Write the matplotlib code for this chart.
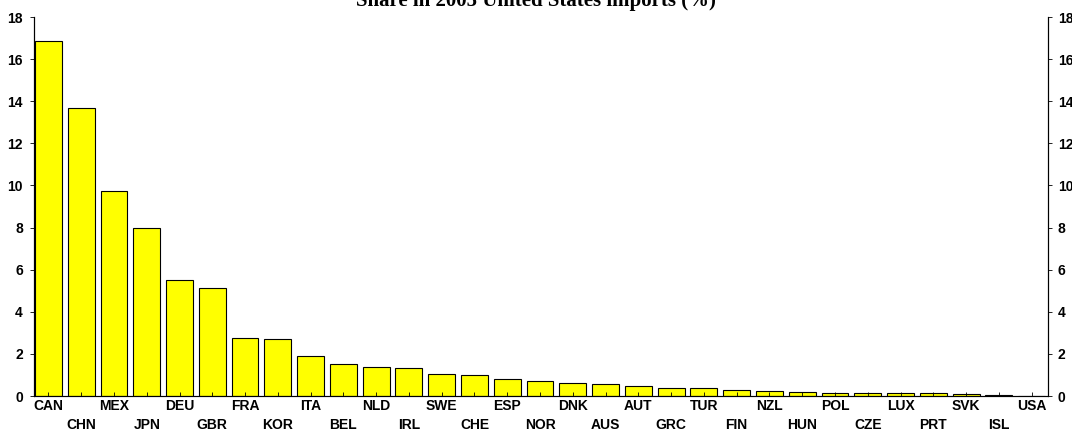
import matplotlib.pyplot as plt
import numpy as np

# data
countries = ['CAN', 'CHN', 'MEX', 'JPN', 'DEU', 'GBR', 'FRA', 'KOR', 'ITA', 'BEL',
             'NLD', 'IRL', 'SWE', 'CHE', 'ESP', 'NOR', 'DNK', 'AUS', 'AUT', 'GRC',
             'TUR', 'FIN', 'NZL', 'HUN', 'POL', 'CZE', 'LUX', 'PRT', 'SVK', 'ISL', 'USA']
share = [16.87, 13.68, 9.72, 7.98, 5.53, 5.12, 2.75, 2.70, 1.90, 1.50,
         1.39, 1.31, 1.03, 0.98, 0.79, 0.72, 0.64, 0.59, 0.48, 0.40,
         0.37, 0.29, 0.24, 0.18, 0.16, 0.16, 0.16, 0.16, 0.08, 0.03, 0.0]
yticks = [0, 2, 4, 6, 8, 10, 12, 14, 16, 18]

tick_font = {'family': 'Liberation Sans', 'weight': 'bold', 'size': 10}

fig = plt.figure(figsize=(10.72, 4.36), dpi=100)
ax1 = fig.add_axes([34 / 1072, 40 / 436, (1048 - 34) / 1072, (396 - 17) / 436])

x = np.arange(len(countries))
ax1.bar(x, share, width=0.82, color='#ffff00', edgecolor='black', linewidth=0.8)

ax1.set_xlim(-0.44, len(countries) - 0.5)
ax1.set_ylim(0, 18)
ax1.set_yticks(yticks)
ax1.set_yticklabels(yticks, fontdict=tick_font)

# staggered country labels
labels = [c if i % 2 == 0 else '\n' + c for i, c in enumerate(countries)]
ax1.set_xticks(x)
ax1.set_xticklabels(labels, fontdict=tick_font, linespacing=1.45)
ax1.tick_params(axis='x', direction='in', length=3, width=0.6, pad=2)
ax1.tick_params(axis='y', direction='out', length=3, width=0.6, pad=5)

ax1.spines['top'].set_visible(False)
for s in ['left', 'right', 'bottom']:
    ax1.spines[s].set_linewidth(0.8)
ax1.spines['bottom'].set_color('#555555')

# right-hand axis
ax2 = ax1.twinx()
ax2.set_ylim(0, 18)
ax2.set_yticks(yticks)
ax2.set_yticklabels(yticks, fontdict=tick_font)
ax2.tick_params(axis='y', direction='out', length=3, width=0.6, pad=4)
ax2.spines['top'].set_visible(False)
ax2.spines['right'].set_linewidth(0.8)

fig.text(0.5, 0.997, 'Share in 2005 United States imports (%)', ha='center', va='center',
         fontsize=15, fontweight='bold', family='Liberation Serif')

fig.savefig('out.png', dpi=100)
